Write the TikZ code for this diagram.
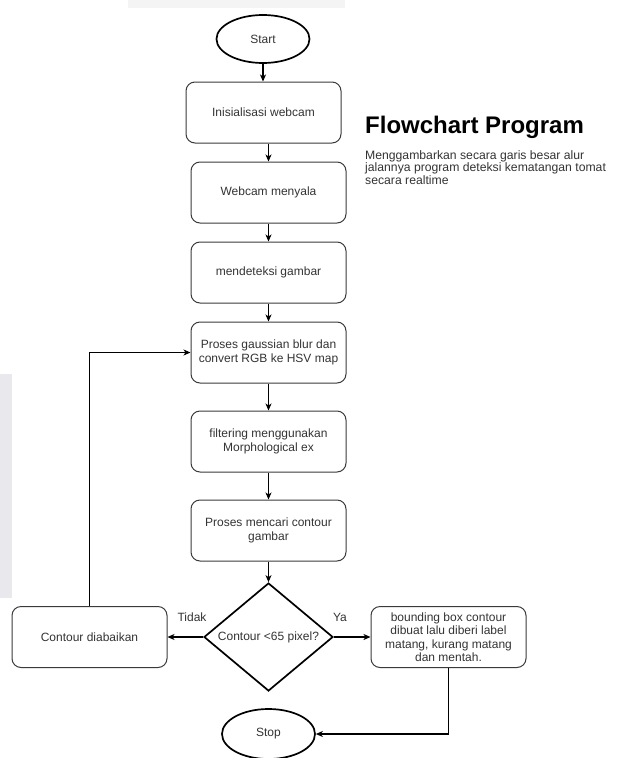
\documentclass[tikz,border=0pt]{standalone}
\usepackage{fontspec}
\setmainfont{Liberation Sans}
\usetikzlibrary{arrows.meta,shapes.geometric}
\definecolor{txt}{HTML}{333333}
\definecolor{edge}{HTML}{3A3A3A}
\definecolor{graya}{HTML}{F4F4F5}
\definecolor{grayb}{HTML}{E9E9ED}
\begin{document}
\begin{tikzpicture}[x=1pt,y=-1pt,
  proc/.style={draw=edge, line width=1pt, rounded corners=9pt, minimum width=155pt, minimum height=61pt, inner sep=2pt, align=center, font=\fontsize{12}{14}\selectfont, text=txt},
  term/.style={ellipse, draw=black, line width=1.7pt, minimum width=93pt, minimum height=48pt, inner sep=0pt, font=\fontsize{12}{14}\selectfont, text=txt},
  dec/.style={diamond, draw=black, line width=1.7pt, minimum width=129pt, minimum height=108pt, inner sep=0pt},
  arr/.style={-{Stealth[length=7pt,width=6pt,inset=2pt]}, line width=1.1pt, draw=black},
  lbl/.style={font=\fontsize{12}{14}\selectfont, text=txt, inner sep=0pt}
]
\useasboundingbox (0,0) rectangle (618,758);
\fill[graya] (128,0) rectangle (345,8);
\fill[grayb] (0,374) rectangle (12,598);

\node[term] (start) at (263,39) {Start};
\node[proc] (inis) at (263.5,112.5) {Inisialisasi webcam};
\node[proc] (web) at (268.5,192.5) {Webcam menyala};
\node[proc] (det) at (268.5,272.5) {mendeteksi gambar};
\node[proc] (gauss) at (268.5,352.5) {Proses gaussian blur dan\\convert RGB ke HSV map};
\node[proc] (filt) at (268.5,441.5) {filtering menggunakan\\Morphological ex};
\node[proc] (cari) at (268.5,530.5) {Proses mencari contour\\gambar};
\node[dec] (dec) at (268.5,637) {};
\node[lbl] (dectxt) at (dec) {Contour <65 pixel?};
\node[proc] (diab) at (89.5,637) {Contour diabaikan};
\node[proc, font=\fontsize{12}{13.5}\selectfont] (bbox) at (448.5,637) {bounding box contour\\dibuat lalu diberi label\\matang, kurang matang\\dan mentah.};
\node[term, minimum height=50pt] (stop) at (268.5,734) {Stop};

\node[lbl] (tidak) at (192,617) {Tidak};
\node[lbl] (ya) at (340,617) {Ya};

\node[anchor=west, inner sep=0pt, font=\bfseries\fontsize{24}{27}\selectfont, text=black] (title) at (365,127) {Flowchart Program};
\node[anchor=north west, inner sep=0pt, align=left, font=\fontsize{12.2}{12.8}\selectfont, text=txt] (desc) at (365,150) {Menggambarkan secara garis besar alur\\jalannya program deteksi kematangan tomat\\secara realtime};

\draw[arr] (start.south) -- (start.south |- inis.north);
\draw[arr] (inis.south -| web.north) -- (web.north);
\draw[arr] (web) -- (det);
\draw[arr] (det) -- (gauss);
\draw[arr] (gauss) -- (filt);
\draw[arr] (filt) -- (cari);
\draw[arr] (cari) -- (dec);
\draw[arr] (dec.west) -- (diab.east);
\draw[arr] (dec.east) -- (bbox.west);
\draw[arr] (diab.north) |- (gauss.west);
\draw[arr] (bbox.south) |- (stop.east);
\end{tikzpicture}
\end{document}
